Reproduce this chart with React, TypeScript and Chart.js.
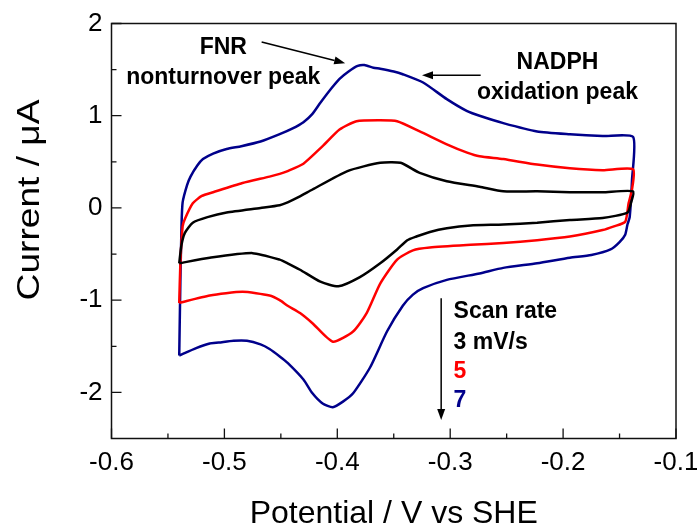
import React, { useEffect, useRef } from "react";
import { Chart, registerables } from "chart.js";

Chart.register(...registerables);

// Scan rate labels
const scanRates = ["3 mV/s", "5", "7"];

// 3 mV/s (black)
const potential3 = [
  -0.540, -0.538, -0.535, -0.528, -0.515, -0.498, -0.468, -0.451, -0.444, -0.434, -0.422, -0.391, -0.362, -0.344, -0.327, -0.303, -0.274, -0.253, -0.223, -0.194, -0.165, -0.138,
  -0.140, -0.143, -0.165, -0.194, -0.223, -0.253, -0.282, -0.303, -0.318, -0.330, -0.338, -0.347, -0.362, -0.380, -0.399, -0.415, -0.433, -0.444, -0.451, -0.475, -0.513, -0.540,
];
const current3 = [
  -0.60, -0.40, -0.27, -0.16, -0.10, -0.05, 0.00, 0.03, 0.06, 0.12, 0.20, 0.40, 0.49, 0.49, 0.38, 0.29, 0.23, 0.18, 0.18, 0.17, 0.17, 0.18,
  0.05, -0.05, -0.11, -0.13, -0.16, -0.18, -0.19, -0.22, -0.26, -0.31, -0.35, -0.45, -0.60, -0.75, -0.85, -0.80, -0.67, -0.60, -0.56, -0.49, -0.54, -0.60,
];

// 5 mV/s (red)
const potential5 = [
  -0.540, -0.539, -0.537, -0.535, -0.528, -0.520, -0.510, -0.484, -0.460, -0.451, -0.444, -0.430, -0.413, -0.398, -0.383, -0.362, -0.347, -0.327, -0.303, -0.285, -0.274, -0.253, -0.223, -0.194, -0.165, -0.138,
  -0.139, -0.142, -0.145, -0.155, -0.165, -0.194, -0.223, -0.253, -0.282, -0.318, -0.333, -0.347, -0.362, -0.374, -0.386, -0.404, -0.422, -0.433, -0.444, -0.451, -0.460, -0.484, -0.513, -0.540,
];
const current5 = [
  -1.03, -0.60, -0.20, -0.12, 0.05, 0.13, 0.17, 0.27, 0.34, 0.37, 0.40, 0.48, 0.67, 0.85, 0.94, 0.95, 0.94, 0.83, 0.69, 0.60, 0.56, 0.53, 0.47, 0.43, 0.41, 0.42,
  0.20, 0.05, -0.15, -0.20, -0.24, -0.31, -0.35, -0.38, -0.40, -0.43, -0.46, -0.56, -0.82, -1.14, -1.34, -1.45, -1.25, -1.14, -1.06, -1.00, -0.95, -0.91, -0.95, -1.03,
];

// 7 mV/s (blue)
const potential7 = [
  -0.540, -0.539, -0.538, -0.537, -0.533, -0.530, -0.524, -0.519, -0.510, -0.498, -0.485, -0.468, -0.451, -0.440, -0.430, -0.422, -0.415, -0.405, -0.398, -0.390, -0.382, -0.376, -0.368, -0.362, -0.350, -0.342, -0.324, -0.303, -0.285, -0.274, -0.253, -0.223, -0.194, -0.165, -0.138,
  -0.139, -0.141, -0.143, -0.145, -0.150, -0.158, -0.175, -0.194, -0.223, -0.253, -0.274, -0.303, -0.324, -0.333, -0.342, -0.356, -0.371, -0.386, -0.395, -0.404, -0.413, -0.422, -0.430, -0.444, -0.451, -0.460, -0.468, -0.480, -0.492, -0.505, -0.513, -0.525, -0.540,
];
const current7 = [
  -1.60, -0.80, -0.20, 0.06, 0.25, 0.34, 0.46, 0.53, 0.59, 0.64, 0.67, 0.72, 0.80, 0.86, 0.93, 1.02, 1.14, 1.30, 1.40, 1.48, 1.54, 1.55, 1.52, 1.51, 1.48, 1.45, 1.36, 1.18, 1.05, 1.00, 0.92, 0.83, 0.80, 0.78, 0.77,
  0.30, -0.10, -0.18, -0.29, -0.37, -0.45, -0.51, -0.54, -0.60, -0.65, -0.71, -0.78, -0.87, -0.94, -1.06, -1.34, -1.73, -2.01, -2.10, -2.16, -2.12, -2.01, -1.86, -1.68, -1.61, -1.53, -1.48, -1.44, -1.44, -1.46, -1.47, -1.52, -1.60,
];

// Axis ticks
const xTicks = [-0.6, -0.5, -0.4, -0.3, -0.2, -0.1];
const xMinorTicks = [-0.55, -0.45, -0.35, -0.25, -0.15];
const yTicks = [-2, -1, 0, 1, 2];
const yMinorTicks = [-1.5, -0.5, 0.5, 1.5];

const xTitle = "Potential / V vs SHE";
const yTitle = "Current / \u03bcA";

const BLUE = "#00008b";
const RED = "#ff0000";
const BLACK = "#000000";
const FONT = "'Liberation Sans', Arial, sans-serif";

const toPoints = (xs: number[], ys: number[]) => xs.map((v, i) => ({ x: v, y: ys[i] }));

const overlay = {
  id: "overlay",
  afterDraw(chart: any) {
    const { ctx, chartArea: a } = chart;
    const x = chart.scales.x;
    const y = chart.scales.y;
    ctx.save();
    // frame
    ctx.strokeStyle = "#111";
    ctx.lineWidth = 1.5;
    ctx.strokeRect(a.left, a.top, a.right - a.left, a.bottom - a.top);
    // inward ticks
    ctx.lineWidth = 1.3;
    ctx.beginPath();
    xTicks.forEach((v) => {
      const px = x.getPixelForValue(v);
      ctx.moveTo(px, a.bottom);
      ctx.lineTo(px, a.bottom - 10);
    });
    xMinorTicks.forEach((v) => {
      const px = x.getPixelForValue(v);
      ctx.moveTo(px, a.bottom);
      ctx.lineTo(px, a.bottom - 5);
    });
    yTicks.forEach((v) => {
      const py = y.getPixelForValue(v);
      ctx.moveTo(a.left, py);
      ctx.lineTo(a.left + 10, py);
    });
    yMinorTicks.forEach((v) => {
      const py = y.getPixelForValue(v);
      ctx.moveTo(a.left, py);
      ctx.lineTo(a.left + 5, py);
    });
    ctx.stroke();

    // axis titles
    ctx.fillStyle = BLACK;
    ctx.font = `32px ${FONT}`;
    ctx.textAlign = "center";
    ctx.textBaseline = "alphabetic";
    ctx.fillText(xTitle, (a.left + a.right) / 2, 523);
    ctx.save();
    ctx.translate(39, 200);
    ctx.rotate(-Math.PI / 2);
    ctx.scale(1.16, 1);
    ctx.fillText(yTitle, 0, 0);
    ctx.restore();

    // annotations
    const P = (vx: number, vy: number) => [x.getPixelForValue(vx), y.getPixelForValue(vy)];
    ctx.font = `bold 23px ${FONT}`;
    ctx.textBaseline = "middle";
    ctx.textAlign = "center";
    let p = P(-0.501, 1.74);
    ctx.fillText("FNR", p[0], p[1]);
    p = P(-0.501, 1.41);
    ctx.fillText("nonturnover peak", p[0], p[1]);
    p = P(-0.205, 1.58);
    ctx.fillText("NADPH", p[0], p[1]);
    p = P(-0.205, 1.25);
    ctx.fillText("oxidation peak", p[0], p[1]);

    ctx.textAlign = "left";
    p = P(-0.297, -1.13);
    ctx.fillText("Scan rate", p[0], p[1]);
    p = P(-0.297, -1.46);
    ctx.fillText(scanRates[0], p[0], p[1]);
    ctx.fillStyle = RED;
    p = P(-0.297, -1.78);
    ctx.fillText(scanRates[1], p[0], p[1]);
    ctx.fillStyle = BLUE;
    p = P(-0.297, -2.09);
    ctx.fillText(scanRates[2], p[0], p[1]);

    const arrow = (x0: number, y0: number, x1: number, y1: number) => {
      const [ax, ay] = P(x0, y0);
      const [bx, by] = P(x1, y1);
      const ang = Math.atan2(by - ay, bx - ax);
      const hl = 11;
      const hw = 4;
      const cx = bx - hl * Math.cos(ang);
      const cy = by - hl * Math.sin(ang);
      ctx.strokeStyle = BLACK;
      ctx.fillStyle = BLACK;
      ctx.lineWidth = 1.5;
      ctx.beginPath();
      ctx.moveTo(ax, ay);
      ctx.lineTo(cx, cy);
      ctx.stroke();
      ctx.beginPath();
      ctx.moveTo(bx, by);
      ctx.lineTo(cx + hw * Math.sin(ang), cy - hw * Math.cos(ang));
      ctx.lineTo(cx - hw * Math.sin(ang), cy + hw * Math.cos(ang));
      ctx.closePath();
      ctx.fill();
    };
    arrow(-0.467, 1.80, -0.393, 1.57);
    arrow(-0.273, 1.44, -0.325, 1.44);
    arrow(-0.308, -0.98, -0.308, -2.30);
    ctx.restore();
  },
};

export default function App() {
  const ref = useRef<HTMLCanvasElement>(null);
  useEffect(() => {
    if (!ref.current) return;
    const ds = (label: string, xs: number[], ys: number[], color: string) => ({
      label,
      data: toPoints(xs, ys),
      borderColor: color,
      backgroundColor: color,
      borderWidth: 2.5,
      pointRadius: 0,
      showLine: true,
      tension: 0.2,
      fill: false,
    });
    const chart = new Chart(ref.current, {
      type: "scatter",
      data: {
        datasets: [
          ds("3 mV/s", potential3, current3, BLACK),
          ds("5 mV/s", potential5, current5, RED),
          ds("7 mV/s", potential7, current7, BLUE),
        ],
      },
      options: {
        responsive: false,
        animation: false,
        devicePixelRatio: 1,
        layout: { padding: { left: 0, top: 23.5, right: 21, bottom: 0 } },
        plugins: { legend: { display: false }, tooltip: { enabled: false }, title: { display: false } },
        scales: {
          x: {
            type: "linear",
            min: -0.6,
            max: -0.1,
            grid: { display: false, drawTicks: false },
            border: { display: false },
            afterBuildTicks: (s: any) => {
              s.ticks = xTicks.map((v) => ({ value: v }));
            },
            afterFit: (s: any) => {
              s.height = 527 - 438.5;
              s.paddingLeft = 0;
              s.paddingRight = 0;
            },
            ticks: {
              padding: 9,
              color: BLACK,
              font: { family: FONT, size: 26 },
              maxRotation: 0,
              callback: (v: any) => Number(v).toFixed(1),
            },
          },
          y: {
            type: "linear",
            min: -2.5,
            max: 2,
            grid: { display: false, drawTicks: false },
            border: { display: false },
            afterBuildTicks: (s: any) => {
              s.ticks = yTicks.map((v) => ({ value: v }));
            },
            afterFit: (s: any) => {
              s.width = 111.5;
              s.paddingTop = 0;
              s.paddingBottom = 0;
            },
            ticks: {
              padding: 9,
              color: BLACK,
              font: { family: FONT, size: 26 },
              callback: (v: any) => String(Math.round(Number(v))),
            },
          },
        },
      },
      plugins: [overlay],
    });
    return () => chart.destroy();
  }, []);
  return (
    <div style={{ position: "absolute", left: 0, top: 0, width: 697, height: 527, background: "#fff" }}>
      <canvas ref={ref} width={697} height={527} style={{ width: 697, height: 527 }} />
    </div>
  );
}
